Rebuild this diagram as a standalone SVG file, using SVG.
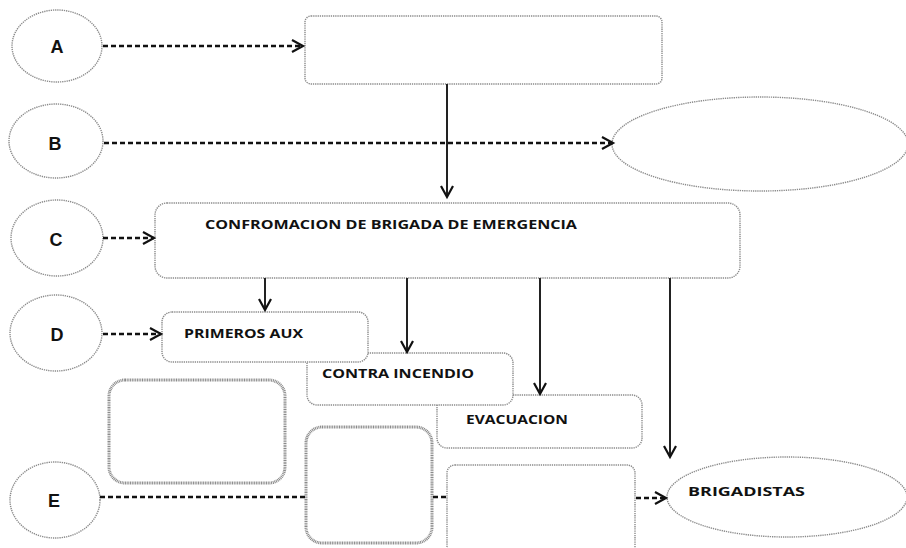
<svg xmlns="http://www.w3.org/2000/svg" width="906" height="548" viewBox="0 0 906 548">
<style>
.nd{fill:#fff;stroke:#8a8a8a;stroke-width:1.4;stroke-dasharray:1.3 0.9}
.thick{fill:#fff;stroke:#8a8a8a;stroke-width:3;stroke-dasharray:1 0.7}
.lt{font-family:"Liberation Sans",Arial,sans-serif;font-size:18px;font-weight:bold;fill:#111;text-anchor:middle}
.tx{font-family:"Open Sans","Liberation Sans",sans-serif;font-size:12.5px;font-weight:bold;fill:#111}
.dash{fill:none;stroke:#111;stroke-width:2.5;stroke-dasharray:5 3}
.sol{fill:none;stroke:#222;stroke-width:2}
</style>
<defs>
<marker id="ah" markerUnits="userSpaceOnUse" markerWidth="16" markerHeight="16" refX="13" refY="8" orient="auto">
<path d="M2,2 L13,8 L2,14" fill="none" stroke="#111" stroke-width="2.2"/>
</marker>
</defs>
<rect width="906" height="548" fill="#fff"/>
<g id="A"><ellipse class="nd" cx="57" cy="46" rx="45" ry="36"/><text class="lt" x="57" y="53">A</text></g>
<g id="B"><ellipse class="nd" cx="56" cy="141" rx="47" ry="37"/><text class="lt" x="55" y="150">B</text></g>
<g id="C"><ellipse class="nd" cx="57" cy="238" rx="46" ry="38"/><text class="lt" x="56" y="246">C</text></g>
<g id="D"><ellipse class="nd" cx="56" cy="333" rx="46" ry="38"/><text class="lt" x="57" y="341">D</text></g>
<g id="E"><ellipse class="nd" cx="55" cy="500" rx="45" ry="38"/><text class="lt" x="54" y="507">E</text></g>
<g id="top"><rect class="nd" x="305" y="16" width="357" height="68" rx="6"/></g>
<g id="oval"><ellipse class="nd" cx="760" cy="144" rx="148" ry="47"/></g>
<g id="conf"><rect class="nd" x="155" y="203" width="585" height="75" rx="12"/><text class="tx" x="205" y="229" textLength="372" lengthAdjust="spacingAndGlyphs">CONFROMACION DE BRIGADA  DE  EMERGENCIA</text></g>
<g id="evac"><rect class="nd" x="437" y="395" width="205" height="53" rx="10"/><text class="tx" x="466" y="424" textLength="102" lengthAdjust="spacingAndGlyphs">EVACUACION</text></g>
<g id="contra"><rect class="nd" x="307" y="353" width="206" height="52" rx="10"/><text class="tx" x="322" y="378" textLength="152" lengthAdjust="spacingAndGlyphs">CONTRA INCENDIO</text></g>
<g id="primeros"><rect class="nd" x="162" y="312" width="206" height="50" rx="10"/><text class="tx" x="184" y="338" textLength="119" lengthAdjust="spacingAndGlyphs">PRIMEROS AUX</text></g>
<g id="box1"><rect class="thick" x="109" y="380" width="176" height="103" rx="16"/></g>
<g id="box2"><rect class="thick" x="306" y="427" width="126" height="116" rx="16"/></g>
<g id="box3"><rect class="nd" x="447" y="465" width="188" height="90" rx="8"/></g>
<g id="brig"><ellipse class="nd" cx="787" cy="497" rx="120" ry="40"/><text class="tx" x="688" y="496" textLength="117" lengthAdjust="spacingAndGlyphs">BRIGADISTAS</text></g>
<g id="connectors">
<path class="dash" d="M103,46 H303" marker-end="url(#ah)"/>
<path class="dash" d="M104,143 H613" marker-end="url(#ah)"/>
<path class="dash" d="M103,238 H154" marker-end="url(#ah)"/>
<path class="dash" d="M103,334 H161" marker-end="url(#ah)"/>
<path class="dash" d="M100,497 H305"/>
<path class="dash" d="M433,497 H446"/>
<path class="dash" d="M636,498 H666" marker-end="url(#ah)"/>
<path class="sol" d="M447,84 V197" marker-end="url(#ah)"/>
<path class="sol" d="M265,278 V310" marker-end="url(#ah)"/>
<path class="sol" d="M407,278 V352" marker-end="url(#ah)"/>
<path class="sol" d="M540,278 V394" marker-end="url(#ah)"/>
<path class="sol" d="M670,278 V457" marker-end="url(#ah)"/>
</g>
</svg>
